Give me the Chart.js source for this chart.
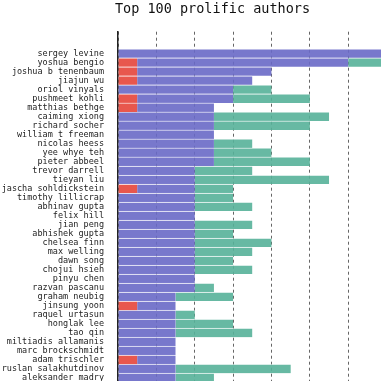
<!DOCTYPE html>
<html>
<head>
<meta charset="utf-8">
<script src="https://cdn.jsdelivr.net/npm/chart.js@4.4.1/dist/chart.umd.min.js"></script>
<style>
html,body{margin:0;padding:0;background:#fff;overflow:hidden;width:381px;height:381px}
canvas{display:block}
</style>
</head>
<body>
<canvas id="c" width="497" height="432"></canvas>
<script>
const authors = ["sergey levine","yoshua bengio","joshua b tenenbaum","jiajun wu","oriol vinyals","pushmeet kohli","matthias bethge","caiming xiong","richard socher","william t freeman","nicolas heess","yee whye teh","pieter abbeel","trevor darrell","tieyan liu","jascha sohldickstein","timothy lillicrap","abhinav gupta","felix hill","jian peng","abhishek gupta","chelsea finn","max welling","dawn song","chojui hsieh","pinyu chen","razvan pascanu","graham neubig","jinsung yoon","raquel urtasun","honglak lee","tao qin","miltiadis allamanis","marc brockschmidt","adam trischler","ruslan salakhutdinov","aleksander madry"];
// red segment length (from 0)
const redVals   = [0,1,1,1,0,1,1,0,0,0,0,0,0,0,0,1,0,0,0,0,0,0,0,0,0,0,0,0,1,0,0,0,0,0,1,0,0];
// end of blue segment (includes red)
const blueTotals = [14,12,8,7,6,6,5,5,5,5,5,5,5,4,4,4,4,4,4,4,4,4,4,4,4,4,4,3,3,3,3,3,3,3,3,3,3];
// end of teal segment (overall total)
const tealTotals = [14,14,8,7,8,10,5,11,10,5,7,8,10,7,11,6,6,7,4,7,6,8,7,6,7,4,5,6,3,4,6,7,3,3,3,9,5];
const xTickStep = 2;

const nz = v => (v > 0 ? v : null);
const redData  = authors.map((a,i) => ({x: nz(redVals[i]), y: i}));
const blueData = authors.map((a,i) => ({x: nz(blueTotals[i] - redVals[i]), y: i}));
const tealData = authors.map((a,i) => ({x: nz(tealTotals[i] - blueTotals[i]), y: i}));

const edge = {top: 1, bottom: 0, left: 0, right: 0};
new Chart(document.getElementById('c'), {
  type: 'bar',
  data: {
    datasets: [
      {label: 'red', data: redData, backgroundColor: 'rgba(229,69,58,0.9)', borderColor: 'rgba(255,255,255,0.45)', borderWidth: edge, borderSkipped: false},
      {label: 'blue', data: blueData, backgroundColor: 'rgba(105,105,199,0.9)', borderColor: 'rgba(255,255,255,0.45)', borderWidth: edge, borderSkipped: false},
      {label: 'teal', data: tealData, backgroundColor: 'rgba(87,177,153,0.9)', borderColor: 'rgba(255,255,255,0.45)', borderWidth: edge, borderSkipped: false}
    ]
  },
  options: {
    indexAxis: 'y',
    responsive: false,
    animation: false,
    events: [],
    barPercentage: 1,
    categoryPercentage: 1,
    layout: {padding: {left: 0, right: 72, top: 0, bottom: 0}},
    plugins: {
      legend: {display: false},
      tooltip: {enabled: false},
      title: {
        display: true,
        text: 'Top 100 prolific authors',
        color: '#111',
        font: {family: 'DejaVu Sans Mono', size: 13.5, weight: 'normal', lineHeight: 1.2},
        padding: {top: 1, bottom: 14.5}
      }
    },
    scales: {
      x: {
        type: 'linear',
        stacked: true,
        min: 0,
        max: 16,
        ticks: {display: false, stepSize: xTickStep},
        grid: {color: '#666', lineWidth: 1, drawTicks: false},
        border: {display: false, dash: [3, 3]}
      },
      y: {
        type: 'linear',
        stacked: true,
        reverse: true,
        offset: false,
        min: -2.4,
        max: 40,
        afterFit: s => { s.width = 118; },
        grid: {display: false, drawTicks: false, offset: false},
        border: {display: true, color: '#222', width: 1.5},
        ticks: {
          stepSize: 1,
          autoSkip: false,
          padding: 14,
          color: '#222',
          font: {family: 'DejaVu Sans Mono', size: 8.5, lineHeight: 1},
          callback: v => (Number.isInteger(v) && authors[v] !== undefined ? authors[v] : '')
        }
      }
    }
  }
});
</script>
</body>
</html>
